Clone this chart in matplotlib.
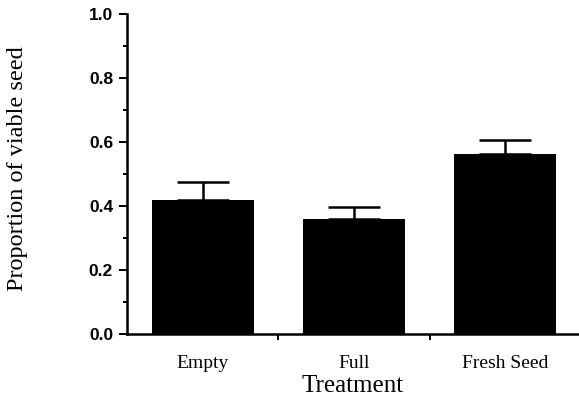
import matplotlib.pyplot as plt
from matplotlib.ticker import MultipleLocator, FixedLocator

treatments = ["Empty", "Full", "Fresh Seed"]
proportion = [0.419, 0.360, 0.563]
se_upper = [0.056, 0.036, 0.043]

fig = plt.figure(figsize=(5.79, 3.99), dpi=100)
ax = fig.add_axes([127 / 579, 65 / 399, 451 / 579, 320 / 399])

pos = list(range(len(treatments)))
ax.bar(pos, proportion, width=0.675, color="black", zorder=2)
ax.errorbar(pos, proportion, yerr=[[0] * 3, se_upper], fmt="none",
            ecolor="black", elinewidth=1.8, capsize=18.7, capthick=1.8, zorder=3)

ax.set_xlim(-0.5, 2.48)
ax.set_ylim(0, 1.0)

for s in ["top", "right"]:
    ax.spines[s].set_visible(False)
for s in ["left", "bottom"]:
    ax.spines[s].set_linewidth(1.8)

ax.yaxis.set_major_locator(MultipleLocator(0.2))
ax.yaxis.set_minor_locator(MultipleLocator(0.1))
ax.tick_params(axis="y", which="major", length=6, width=1.4, direction="out", pad=4)
ax.tick_params(axis="y", which="minor", length=3, width=1.4, direction="out")
ax.set_yticklabels([f"{v:.1f}" for v in ax.get_yticks()],
                   fontfamily="Liberation Sans", fontsize=12.5, fontweight="semibold")

# labels under the bars, tick marks between them
ax.xaxis.set_major_locator(FixedLocator([0.5, 1.5]))
ax.xaxis.set_minor_locator(FixedLocator(pos))
ax.set_xticklabels([])
ax.set_xticklabels(treatments, minor=True, fontfamily="Liberation Serif", fontsize=14)
ax.tick_params(axis="x", which="major", length=4, width=1.4, direction="out")
ax.tick_params(axis="x", which="minor", length=0, pad=15)

ax.set_xlabel("Treatment", fontfamily="Liberation Serif", fontsize=18)
ax.xaxis.set_label_coords(0.5, (334 - 386) / 320)
ax.xaxis.label.set_va("center")

ax.set_ylabel("Proportion of viable seed", fontfamily="Liberation Serif", fontsize=17.5)
ax.yaxis.set_label_coords((18 - 127) / 451, (334 - 169) / 320)
ax.yaxis.label.set_va("center")

fig.savefig("out.png", dpi=100)
